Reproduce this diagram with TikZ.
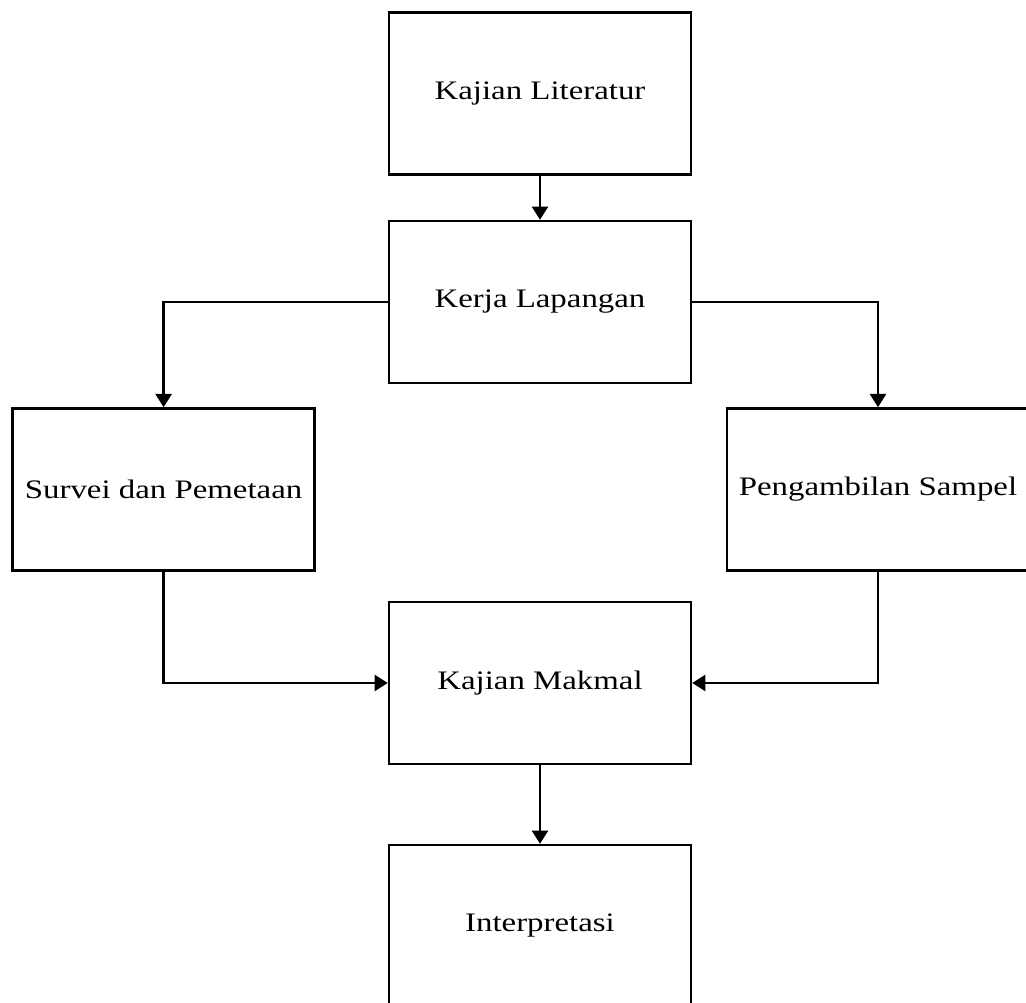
\documentclass[tikz,border=0pt]{standalone}
\usepackage{fontspec}
\setmainfont{Liberation Serif}[FakeStretch=1.23]
\usetikzlibrary{arrows.meta}

\begin{document}
\begin{tikzpicture}[
	box/.style = {draw, line width = 1.7pt, minimum width = 7.55cm, minimum height = 4.05cm, inner sep = 0pt, font = \fontsize{19}{23}\selectfont},
	arr/.style = {line width = 1.7pt, -{Triangle[length = 0.33cm, width = 0.4cm]}}]
	\useasboundingbox (0,0) rectangle (25.65,25.075);

	\node[box] (lit) at (13.5,22.74) {Kajian Literatur};
	\node[box] (kerja) at (13.5,17.525) {Kerja Lapangan};
	\node[box] (survei) at (4.09,12.84) {Survei dan Pemetaan};
	\node[box] (sampel) at (21.95,12.84) {Pengambilan Sampel};
	\node[box] (makmal) at (13.5,8.0) {Kajian Makmal};
	\node[box] (interp) at (13.5,1.925) {Interpretasi};

	\draw[arr] (lit.south) -- (kerja.north);
	\draw[arr] (kerja.west) -| (survei.north);
	\draw[arr] (kerja.east) -| (sampel.north);
	\draw[arr] (survei.south) |- (makmal.west);
	\draw[arr] (sampel.south) |- (makmal.east);
	\draw[arr] (makmal.south) -- (interp.north);
\end{tikzpicture}
\end{document}
